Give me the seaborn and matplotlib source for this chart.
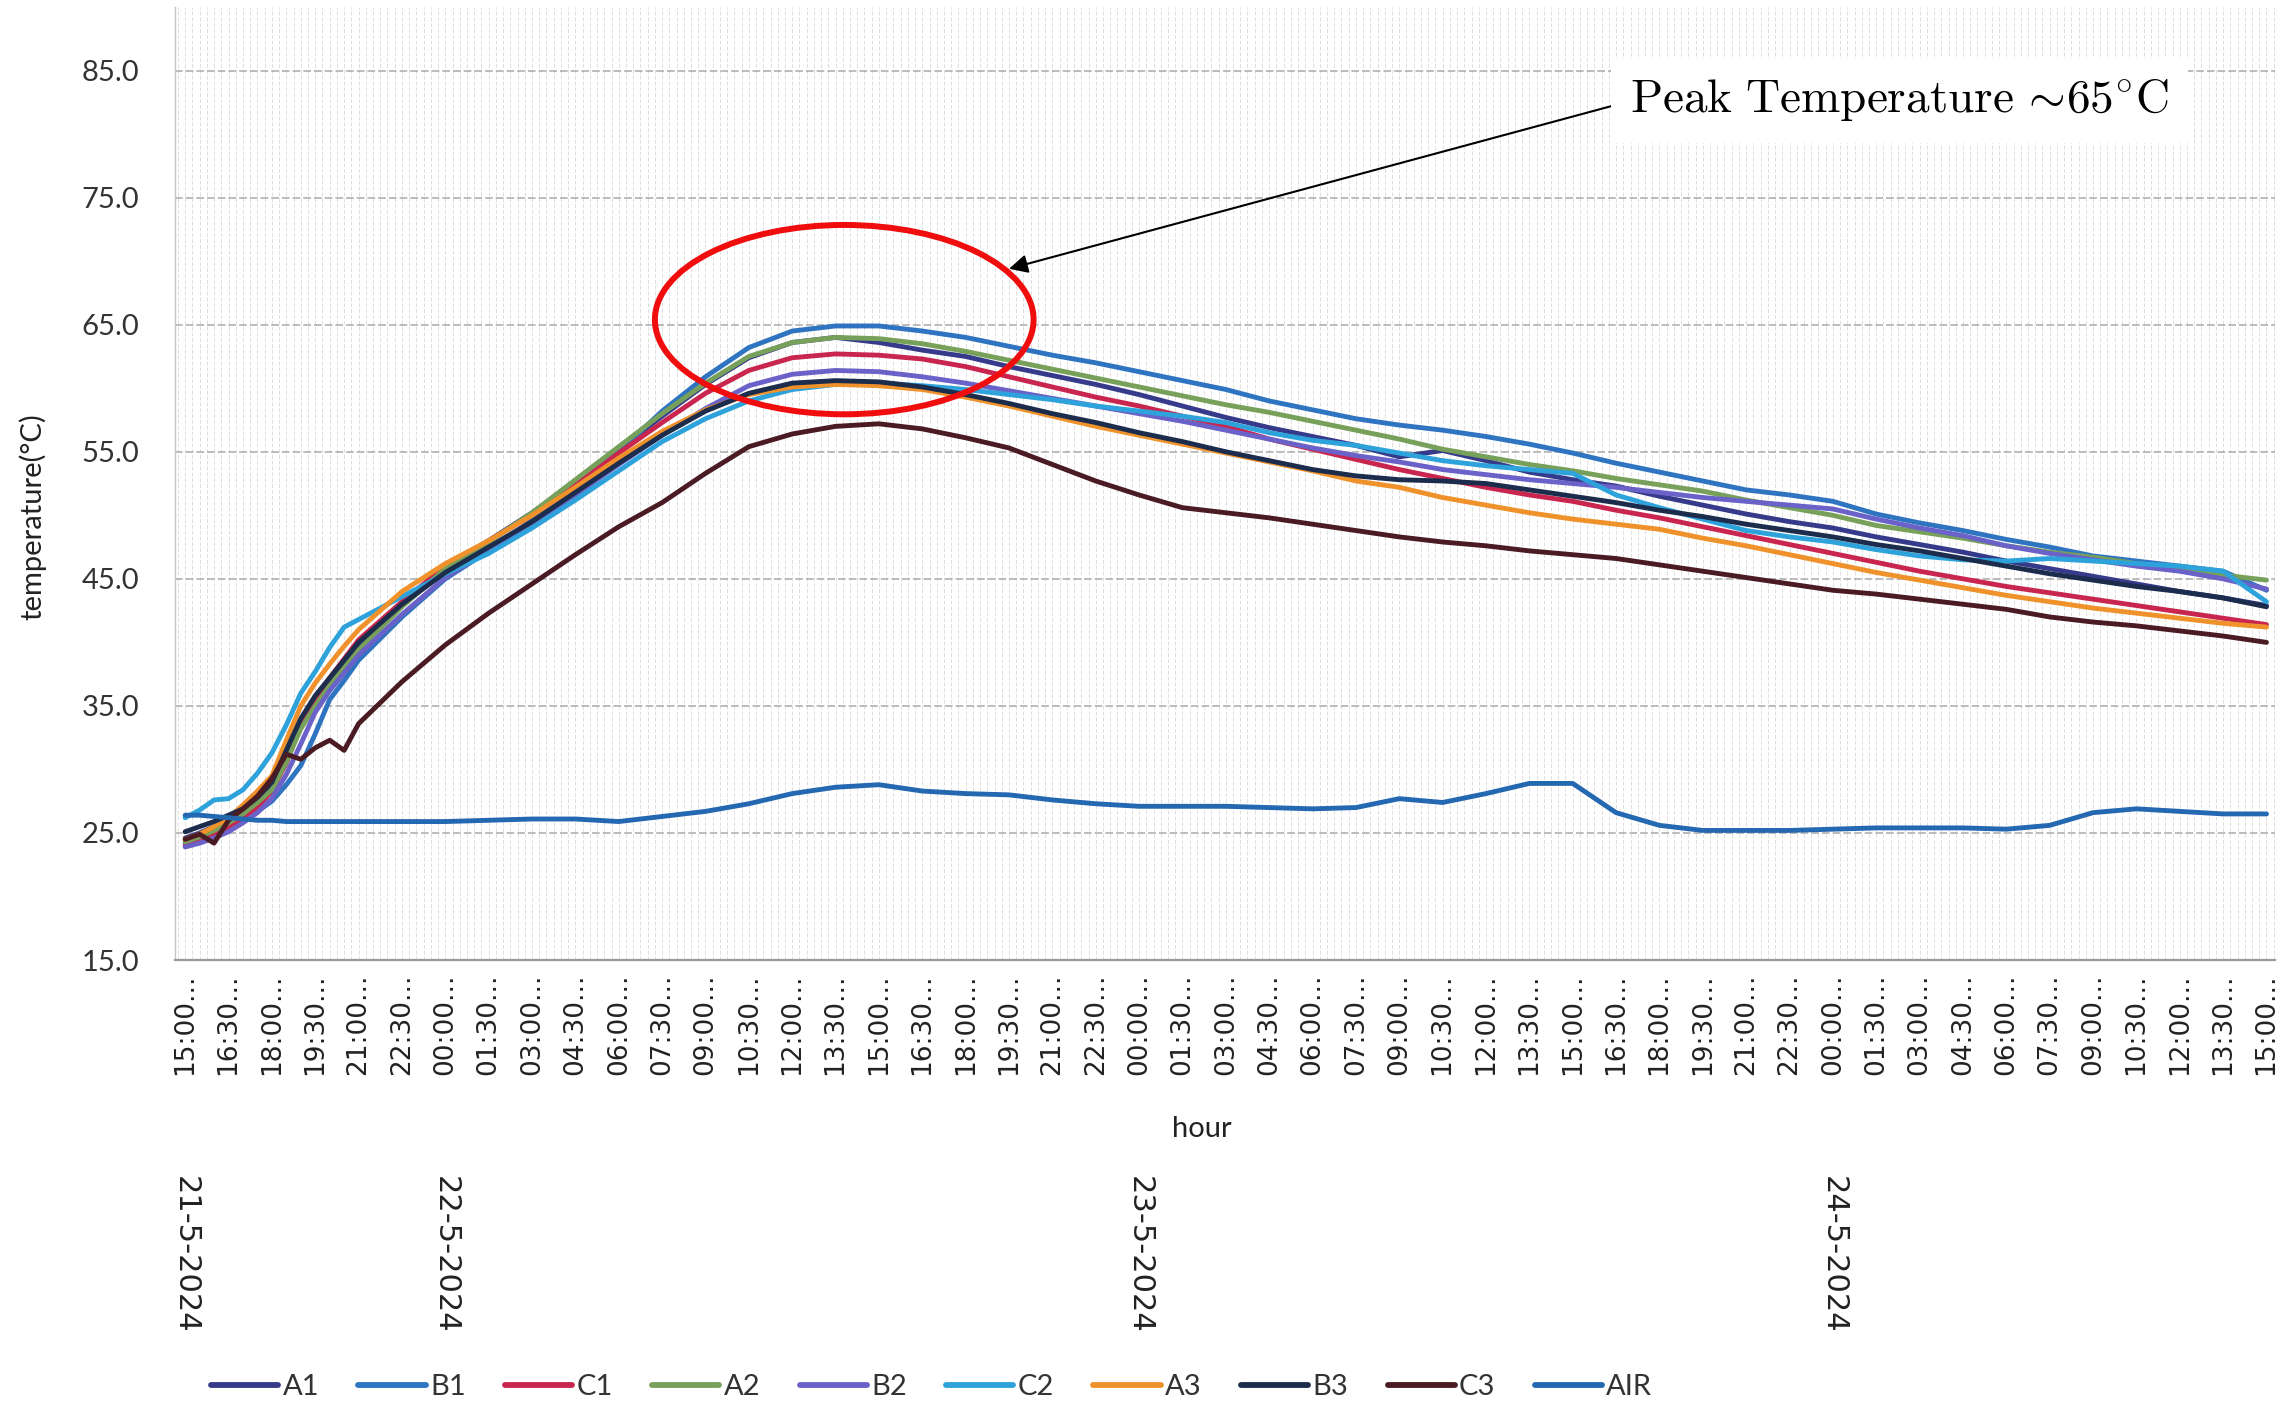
import matplotlib
matplotlib.use("Agg")
import matplotlib.pyplot as plt
import matplotlib.transforms as mtransforms
from matplotlib.patches import Ellipse
from matplotlib.ticker import MultipleLocator, FixedLocator
import numpy as np
import pandas as pd
import seaborn as sns

# ---------------------------------------------------------------- data
# hours elapsed since 21-5-2024 15:00
hours = [0, 0.5, 1, 1.5, 2, 2.5, 3, 3.5, 4, 4.5, 5, 5.5, 6,
         7.5, 9, 10.5, 12, 13.5, 15, 16.5, 18, 19.5, 21, 22.5, 24,
         25.5, 27, 28.5, 30, 31.5, 33, 34.5, 36, 37.5, 39, 40.5, 42, 43.5,
         45, 46.5, 48, 49.5, 51, 52.5, 54, 55.5, 57, 58.5, 60, 61.5, 63,
         64.5, 66, 67.5, 69, 70.5, 72]

A1 = [24.6, 25.0, 25.5, 26.1, 26.8, 27.7, 28.9, 31.2, 33.6, 35.4, 36.8, 38.1, 39.5,
      42.9, 45.9, 48.0, 50.2, 52.6, 55.2, 57.8, 60.3, 62.4, 63.6, 64.0, 63.6,
      63.0, 62.5, 61.7, 61.0, 60.3, 59.5, 58.6, 57.7, 56.9, 56.2, 55.5, 54.6, 55.1,
      54.3, 53.4, 52.8, 52.3, 51.5, 50.8, 50.1, 49.5, 49.0, 48.3, 47.7, 47.1, 46.4,
      45.8, 45.2, 44.6, 44.0, 43.5, 42.9]
B1 = [24.2, 24.4, 24.8, 25.3, 26.0, 26.7, 27.5, 28.8, 30.3, 32.8, 35.5, 37.0, 38.6,
      42.0, 45.0, 47.2, 49.6, 52.2, 55.0, 58.2, 60.9, 63.2, 64.5, 64.9, 64.9,
      64.5, 64.0, 63.3, 62.6, 62.0, 61.3, 60.6, 59.9, 59.0, 58.3, 57.6, 57.1, 56.7,
      56.2, 55.6, 54.9, 54.1, 53.4, 52.7, 52.0, 51.6, 51.1, 50.1, 49.4, 48.8, 48.1,
      47.5, 46.8, 46.4, 46.0, 45.6, 44.1]
C1 = [24.0, 24.3, 24.8, 25.4, 26.1, 27.0, 28.3, 30.5, 33.5, 35.5, 37.2, 38.7, 40.2,
      43.2, 46.0, 48.0, 50.0, 52.4, 54.9, 57.3, 59.6, 61.4, 62.4, 62.7, 62.6,
      62.3, 61.7, 60.9, 60.1, 59.3, 58.6, 57.8, 57.0, 56.0, 55.2, 54.4, 53.6, 52.9,
      52.2, 51.6, 51.1, 50.4, 49.8, 49.1, 48.4, 47.7, 47.0, 46.3, 45.6, 45.0, 44.4,
      43.9, 43.4, 42.9, 42.4, 41.9, 41.4]
A2 = [24.3, 24.7, 25.2, 25.8, 26.5, 27.4, 28.4, 30.6, 33.2, 35.0, 36.6, 38.0, 39.4,
      42.8, 45.8, 47.9, 50.2, 52.8, 55.4, 58.0, 60.4, 62.5, 63.6, 64.0, 63.9,
      63.5, 62.9, 62.2, 61.5, 60.8, 60.1, 59.4, 58.7, 58.1, 57.4, 56.7, 56.0, 55.2,
      54.6, 54.0, 53.5, 52.9, 52.4, 51.9, 51.2, 50.6, 50.0, 49.2, 48.7, 48.2, 47.6,
      47.1, 46.7, 46.2, 45.7, 45.3, 44.9]
B2 = [23.9, 24.2, 24.6, 25.1, 25.8, 26.6, 27.7, 29.6, 32.0, 34.5, 36.2, 37.6, 39.0,
      42.2, 45.1, 47.2, 49.3, 51.6, 54.0, 56.3, 58.4, 60.2, 61.1, 61.4, 61.3,
      60.9, 60.4, 59.8, 59.2, 58.6, 58.0, 57.4, 56.7, 56.0, 55.3, 54.7, 54.2, 53.6,
      53.2, 52.8, 52.5, 52.2, 51.8, 51.4, 51.1, 50.8, 50.5, 49.7, 49.0, 48.4, 47.6,
      47.0, 46.5, 46.0, 45.6, 45.0, 44.2]
C2 = [26.2, 26.8, 27.6, 27.7, 28.4, 29.7, 31.3, 33.5, 36.0, 37.7, 39.6, 41.2, 41.8,
      43.6, 45.4, 47.0, 49.0, 51.2, 53.5, 55.8, 57.6, 59.0, 59.9, 60.3, 60.4,
      60.2, 59.9, 59.5, 59.1, 58.6, 58.2, 57.8, 57.3, 56.5, 55.9, 55.5, 54.9, 54.3,
      53.9, 53.6, 53.3, 51.6, 50.6, 49.7, 48.8, 48.3, 47.9, 47.3, 46.8, 46.5, 46.4,
      46.6, 46.4, 46.2, 46.0, 45.6, 43.2]
A3 = [24.5, 24.9, 25.5, 26.2, 27.2, 28.3, 29.5, 32.3, 35.0, 36.8, 38.3, 39.7, 41.0,
      44.0, 46.2, 48.0, 50.0, 52.2, 54.5, 56.6, 58.3, 59.5, 60.1, 60.3, 60.2,
      59.9, 59.3, 58.6, 57.8, 57.0, 56.3, 55.6, 54.9, 54.2, 53.5, 52.7, 52.2, 51.4,
      50.8, 50.2, 49.7, 49.3, 48.9, 48.2, 47.6, 46.9, 46.2, 45.5, 44.9, 44.3, 43.7,
      43.2, 42.7, 42.3, 41.9, 41.5, 41.2]
B3 = [25.1, 25.5, 25.9, 26.4, 26.9, 27.8, 29.0, 31.5, 34.0, 35.8, 37.2, 38.6, 40.0,
      43.0, 45.5, 47.5, 49.5, 51.8, 54.1, 56.3, 58.2, 59.6, 60.4, 60.6, 60.5,
      60.1, 59.5, 58.8, 58.0, 57.3, 56.5, 55.8, 55.0, 54.3, 53.6, 53.1, 52.8, 52.7,
      52.5, 52.0, 51.5, 51.0, 50.4, 49.9, 49.3, 48.8, 48.3, 47.7, 47.2, 46.6, 46.0,
      45.4, 44.9, 44.4, 44.0, 43.5, 42.8]
C3 = [24.5, 24.9, 24.2, 26.0, 26.9, 27.9, 29.3, 31.2, 30.8, 31.7, 32.3, 31.5, 33.6,
      36.9, 39.8, 42.3, 44.6, 46.9, 49.1, 51.0, 53.3, 55.4, 56.4, 57.0, 57.2,
      56.8, 56.1, 55.3, 54.0, 52.7, 51.6, 50.6, 50.2, 49.8, 49.3, 48.8, 48.3, 47.9,
      47.6, 47.2, 46.9, 46.6, 46.1, 45.6, 45.1, 44.6, 44.1, 43.8, 43.4, 43.0, 42.6,
      42.0, 41.6, 41.3, 40.9, 40.5, 40.0]
AIR = [26.4, 26.4, 26.3, 26.2, 26.1, 26.0, 26.0, 25.9, 25.9, 25.9, 25.9, 25.9, 25.9,
       25.9, 25.9, 26.0, 26.1, 26.1, 25.9, 26.3, 26.7, 27.3, 28.1, 28.6, 28.8,
       28.3, 28.1, 28.0, 27.6, 27.3, 27.1, 27.1, 27.1, 27.0, 26.9, 27.0, 27.7, 27.4,
       28.1, 28.9, 28.9, 26.6, 25.6, 25.2, 25.2, 25.2, 25.3, 25.4, 25.4, 25.4, 25.3,
       25.6, 26.6, 26.9, 26.7, 26.5, 26.5]

series_names = ["A1", "B1", "C1", "A2", "B2", "C2", "A3", "B3", "C3", "AIR"]
series_values = [A1, B1, C1, A2, B2, C2, A3, B3, C3, AIR]
series_colors = ["#363a8a", "#2e74c0", "#c9264f", "#77a05a", "#6a62c8",
                 "#2ea2da", "#f0922b", "#1c2c4c", "#4a1b23", "#2468b2"]

tick_labels = [f"{(15 * 60 + 90 * k) // 60 % 24:02d}:{(90 * k) % 60:02d}..."
               for k in range(49)]
tick_hours = [1.5 * k for k in range(49)]
date_labels = ["21-5-2024", "22-5-2024", "23-5-2024", "24-5-2024"]
date_hours = [0, 9, 33, 57]

peak_text = r"$\mathrm{Peak\ Temperature\ }\!{\sim}\!65^{\circ}\mathrm{C}$"

# ---------------------------------------------------------------- frame
frame = pd.concat(
    [pd.DataFrame({"hour": hours, "temperature": vals, "sensor": name})
     for name, vals in zip(series_names, series_values)],
    ignore_index=True)

sns.set_theme(style="white")
plt.rcParams["font.family"] = ["Lato", "DejaVu Sans"]
plt.rcParams["mathtext.fontset"] = "cm"

fig = plt.figure(figsize=(22.82, 14.04), dpi=100)
ax = fig.add_axes([0.0767, 0.3162, 0.9203, 0.6788])

palette = dict(zip(series_names, series_colors))
sns.lineplot(data=frame, x="hour", y="temperature", hue="sensor",
             hue_order=series_names, palette=palette, linewidth=3.5,
             estimator=None, sort=True, ax=ax, legend=True)

ax.set_xlim(-0.35, 72.3)
ax.set_ylim(15, 90)

# grid: faint quarter-hour verticals, dashed 10-degree horizontals
ax.set_axisbelow(True)
ax.xaxis.set_major_locator(FixedLocator(tick_hours))
ax.xaxis.set_minor_locator(MultipleLocator(0.25))
ax.grid(which="both", axis="x", color="#dedede", linewidth=0.7,
        linestyle=(0, (4, 2)))
ax.yaxis.set_major_locator(MultipleLocator(10))
ax.grid(which="major", axis="y", color="#a9a9a9", linewidth=1.1,
        linestyle=(0, (5, 2)))

for side in ("top", "right"):
    ax.spines[side].set_visible(False)
ax.spines["bottom"].set_color("#9a9a9a")
ax.spines["bottom"].set_linewidth(1.6)
ax.spines["left"].set_color("#c4c4c4")
ax.spines["left"].set_linewidth(1.0)

ax.set_xticks(tick_hours)
ax.set_xticklabels(tick_labels, rotation=90, fontsize=19,
                   family="DejaVu Sans", color="#222222")
ax.tick_params(axis="x", which="major", length=7, width=1.2, color="#9a9a9a",
               pad=3, direction="out")
ax.tick_params(axis="x", which="minor", length=4, width=0.8, color="#b0b0b0",
               direction="out")
ax.set_yticks(np.arange(15, 86, 10))
ax.set_yticklabels([f"{v:.1f}" for v in np.arange(15, 86, 10)],
                   fontsize=21, color="#333333")
ax.tick_params(axis="y", length=0, pad=26)

ax.set_xlabel("hour", fontsize=21, color="#222222")
ax.xaxis.set_label_coords(0.489, -0.177)
ax.xaxis.label.set_va("center")
ax.set_ylabel("temperature(°C)", fontsize=21, color="#222222")
ax.yaxis.set_label_coords(-0.068, 0.465)
ax.yaxis.label.set_va("center")

# date captions below the time axis
date_trans = mtransforms.blended_transform_factory(ax.transData, fig.transFigure)
for h, lab in zip(date_hours, date_labels):
    ax.text(h, 1 - 1255 / 1404, lab, transform=date_trans, rotation=270,
            ha="center", va="center", fontsize=22, family="DejaVu Sans",
            color="#222222")

# peak highlight
ax.add_patch(Ellipse((22.8, 65.4), width=13.1, height=14.9, fill=False,
                     edgecolor="#f00d0d", linewidth=4.3, zorder=5))
ax.annotate(peak_text, xy=(28.5, 69.4), xytext=(59.3, 82.6),
            ha="center", va="center", fontsize=34, color="black",
            bbox=dict(boxstyle="square,pad=0.4", facecolor="white",
                      edgecolor="none"),
            arrowprops=dict(arrowstyle="-|>", color="black", lw=1.5,
                            mutation_scale=28, shrinkA=0, shrinkB=0,
                            relpos=(0.0, 0.5)),
            zorder=6)

# legend along the bottom
handles, labels = ax.get_legend_handles_labels()
for hnd in handles:
    hnd.set_linewidth(4.2)
ax.legend(handles, labels, loc="center left",
          bbox_to_anchor=(211 / 2282, 1 - 1387 / 1404),
          bbox_transform=fig.transFigure, ncol=len(series_names),
          frameon=False, handlelength=2.3, handletextpad=0.15,
          columnspacing=1.35, fontsize=21, borderpad=0, borderaxespad=0,
          labelcolor="#333333")

fig.savefig("out.png", dpi=100, facecolor="white")
